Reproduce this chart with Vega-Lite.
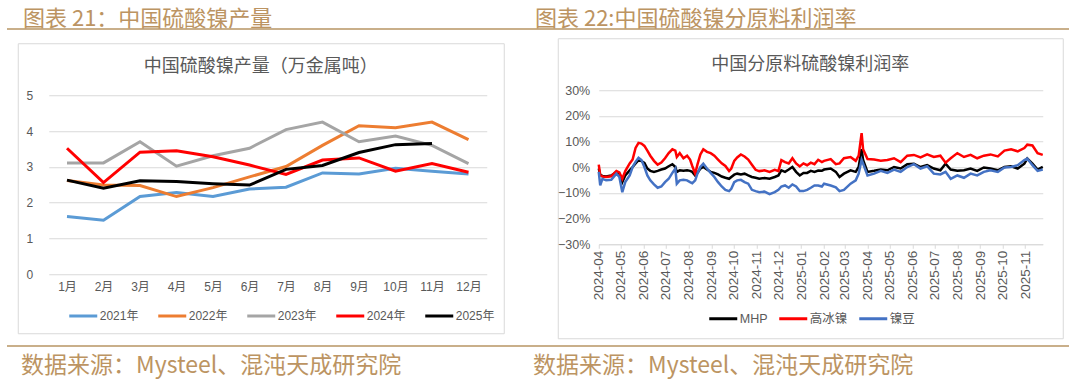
{
  "$schema": "https://vega.github.io/schema/vega-lite/v6.json",
  "padding": {"left": 7, "top": 7, "right": 0, "bottom": 0},
  "spacing": 6,
  "center": true,
  "config": {
    "font": "Liberation Sans, Noto Sans CJK SC",
    "view": {"stroke": null},
    "axis": {"labelColor": "#595959", "labelFont": "Liberation Sans, Noto Sans CJK SC", "gridColor": "#D9D9D9", "domainColor": "#D9D9D9", "tickColor": "#D9D9D9"},
    "legend": {"labelColor": "#595959", "labelFont": "Liberation Sans, Noto Sans CJK SC"}
  },
  "vconcat": [
    {
      "spacing": 0,
      "hconcat": [
        {
          "width": 521, "height": 0.01,
          "view": {"stroke": "#C9AF8A", "strokeWidth": 2},
          "title": {"text": "图表 21：中国硫酸镍产量", "anchor": "start", "dx": 15, "offset": -2, "fontSize": 22, "fontWeight": "normal", "color": "#BC9462", "font": "Noto Sans CJK SC"},
          "data": {"values": []},
          "mark": "point"
        },
        {
          "width": 541, "height": 0.01,
          "view": {"stroke": "#C9AF8A", "strokeWidth": 2},
          "title": {"text": "图表 22:中国硫酸镍分原料利润率", "anchor": "start", "dx": 4, "offset": -2, "fontSize": 22, "fontWeight": "normal", "color": "#BC9462", "font": "Noto Sans CJK SC"},
          "data": {"values": []},
          "mark": "point"
        }
      ]
    },
    {
      "spacing": 52,
      "center": true,
      "resolve": {"scale": {"color": "independent", "x": "independent", "y": "independent"}, "legend": {"color": "independent"}},
      "hconcat": [
        {
          "width": 486, "height": 290,
          "view": {"stroke": "#D9D9D9", "strokeWidth": 1},
          "title": {"text": "中国硫酸镍产量（万金属吨）", "offset": -33, "fontSize": 18, "fontWeight": "normal", "color": "#595959", "font": "Noto Sans CJK SC", "anchor": "middle"},
          "data": {"values": [
            {"month": "1月", "2021年": 1.61, "2022年": 2.62, "2023年": 3.11, "2024年": 3.52, "2025年": 2.63},
            {"month": "2月", "2021年": 1.51, "2022年": 2.49, "2023年": 3.11, "2024年": 2.56, "2025年": 2.40},
            {"month": "3月", "2021年": 2.17, "2022年": 2.48, "2023年": 3.70, "2024年": 3.41, "2025年": 2.61},
            {"month": "4月", "2021年": 2.28, "2022年": 2.17, "2023年": 3.02, "2024年": 3.45, "2025年": 2.59},
            {"month": "5月", "2021年": 2.17, "2022年": 2.42, "2023年": 3.31, "2024年": 3.28, "2025年": 2.53},
            {"month": "6月", "2021年": 2.38, "2022年": 2.72, "2023年": 3.52, "2024年": 3.05, "2025年": 2.49},
            {"month": "7月", "2021年": 2.43, "2022年": 3.01, "2023年": 4.04, "2024年": 2.79, "2025年": 2.93},
            {"month": "8月", "2021年": 2.83, "2022年": 3.60, "2023年": 4.25, "2024年": 3.19, "2025年": 3.04},
            {"month": "9月", "2021年": 2.80, "2022年": 4.15, "2023年": 3.70, "2024年": 3.25, "2025年": 3.40},
            {"month": "10月", "2021年": 2.96, "2022年": 4.09, "2023年": 3.86, "2024年": 2.88, "2025年": 3.62},
            {"month": "11月", "2021年": 2.88, "2022年": 4.25, "2023年": 3.60, "2024年": 3.09, "2025年": 3.65},
            {"month": "12月", "2021年": 2.80, "2022年": 3.76, "2023年": 3.09, "2024年": 2.85}
          ]},
          "transform": [{"fold": ["2021年", "2022年", "2023年", "2024年", "2025年"], "as": ["year", "value"]}],
          "mark": {"type": "line", "strokeWidth": 3},
          "encoding": {
            "x": {"field": "month", "type": "ordinal",
              "sort": ["1月","2月","3月","4月","5月","6月","7月","8月","9月","10月","11月","12月"],
              "scale": {"type": "point", "range": [31, 469], "padding": 0.5},
              "axis": {"title": null, "labelAngle": 0, "domain": false, "ticks": false, "grid": false, "offset": -59, "labelPadding": 7, "labelFontSize": 12}},
            "y": {"field": "value", "type": "quantitative",
              "scale": {"domain": [0, 5], "range": [231, 52], "nice": false},
              "axis": {"title": null, "values": [0, 1, 2, 3, 4, 5], "domain": false, "ticks": false, "offset": -17, "labelPadding": 2, "labelFontSize": 12}},
            "color": {"field": "year", "type": "nominal",
              "scale": {"domain": ["2021年", "2022年", "2023年", "2024年", "2025年"], "range": ["#5B9BD5", "#ED7D31", "#A5A5A5", "#FF0000", "#000000"]},
              "legend": {"title": null, "orient": "none", "legendX": 50, "legendY": 257, "direction": "horizontal", "columns": 5, "symbolType": "stroke", "symbolSize": 784, "symbolStrokeWidth": 3, "labelFontSize": 12, "labelOffset": 1, "columnPadding": 13}}
          }
        },
        {
          "width": 505, "height": 300,
          "view": {"stroke": "#D9D9D9", "strokeWidth": 1},
          "title": {"text": "中国分原料硫酸镍利润率", "offset": -36, "fontSize": 18, "fontWeight": "normal", "color": "#595959", "font": "Noto Sans CJK SC", "anchor": "middle"},
          "data": {"values": [
            {"date": "2024/04/01", "MHP": -0.005, "高冰镍": 0.010, "镍豆": -0.018},
            {"date": "2024/04/03", "MHP": -0.030, "高冰镍": -0.030, "镍豆": -0.071},
            {"date": "2024/04/06", "MHP": -0.034, "高冰镍": -0.036, "镍豆": -0.045},
            {"date": "2024/04/11", "MHP": -0.036, "高冰镍": -0.038, "镍豆": -0.051},
            {"date": "2024/04/18", "MHP": -0.032, "高冰镍": -0.035, "镍豆": -0.049},
            {"date": "2024/04/25", "MHP": -0.018, "高冰镍": -0.015, "镍豆": -0.025},
            {"date": "2024/04/29", "MHP": -0.025, "高冰镍": -0.020, "镍豆": -0.038},
            {"date": "2024/05/03", "MHP": -0.058, "高冰镍": -0.045, "镍豆": -0.097},
            {"date": "2024/05/07", "MHP": -0.032, "高冰镍": -0.015, "镍豆": -0.058},
            {"date": "2024/05/13", "MHP": -0.012, "高冰镍": 0.015, "镍豆": -0.032},
            {"date": "2024/05/17", "MHP": 0.001, "高冰镍": 0.030, "镍豆": 0.001},
            {"date": "2024/05/21", "MHP": 0.015, "高冰镍": 0.075, "镍豆": 0.021},
            {"date": "2024/05/25", "MHP": 0.028, "高冰镍": 0.095, "镍豆": 0.037},
            {"date": "2024/05/29", "MHP": 0.024, "高冰镍": 0.092, "镍豆": 0.028},
            {"date": "2024/06/02", "MHP": 0.017, "高冰镍": 0.083, "镍豆": 0.001},
            {"date": "2024/06/06", "MHP": -0.005, "高冰镍": 0.065, "镍豆": -0.032},
            {"date": "2024/06/10", "MHP": -0.014, "高冰镍": 0.045, "镍豆": -0.051},
            {"date": "2024/06/15", "MHP": -0.018, "高冰镍": 0.025, "镍豆": -0.067},
            {"date": "2024/06/20", "MHP": -0.014, "高冰镍": 0.010, "镍豆": -0.080},
            {"date": "2024/06/25", "MHP": -0.009, "高冰镍": 0.018, "镍豆": -0.075},
            {"date": "2024/06/30", "MHP": -0.005, "高冰镍": 0.035, "镍豆": -0.058},
            {"date": "2024/07/05", "MHP": 0.004, "高冰镍": 0.055, "镍豆": -0.045},
            {"date": "2024/07/10", "MHP": 0.012, "高冰镍": 0.070, "镍豆": -0.022},
            {"date": "2024/07/14", "MHP": 0.001, "高冰镍": 0.065, "镍豆": -0.005},
            {"date": "2024/07/16", "MHP": -0.018, "高冰镍": 0.040, "镍豆": -0.064},
            {"date": "2024/07/20", "MHP": -0.012, "高冰镍": 0.055, "镍豆": -0.051},
            {"date": "2024/07/25", "MHP": -0.014, "高冰镍": 0.035, "镍豆": -0.049},
            {"date": "2024/07/30", "MHP": -0.012, "高冰镍": 0.045, "镍豆": -0.051},
            {"date": "2024/08/03", "MHP": -0.014, "高冰镍": 0.030, "镍豆": -0.058},
            {"date": "2024/08/06", "MHP": -0.018, "高冰镍": 0.005, "镍豆": -0.062},
            {"date": "2024/08/10", "MHP": -0.032, "高冰镍": -0.025, "镍豆": -0.051},
            {"date": "2024/08/13", "MHP": -0.022, "高冰镍": 0.010, "镍豆": -0.025},
            {"date": "2024/08/17", "MHP": -0.005, "高冰镍": 0.050, "镍豆": 0.001},
            {"date": "2024/08/21", "MHP": 0.001, "高冰镍": 0.070, "镍豆": 0.014},
            {"date": "2024/08/26", "MHP": -0.009, "高冰镍": 0.060, "镍豆": -0.005},
            {"date": "2024/08/31", "MHP": -0.018, "高冰镍": 0.055, "镍豆": -0.022},
            {"date": "2024/09/05", "MHP": -0.022, "高冰镍": 0.045, "镍豆": -0.038},
            {"date": "2024/09/10", "MHP": -0.028, "高冰镍": 0.030, "镍豆": -0.058},
            {"date": "2024/09/15", "MHP": -0.036, "高冰镍": 0.015, "镍豆": -0.075},
            {"date": "2024/09/20", "MHP": -0.041, "高冰镍": 0.005, "镍豆": -0.088},
            {"date": "2024/09/25", "MHP": -0.045, "高冰镍": -0.015, "镍豆": -0.093},
            {"date": "2024/09/28", "MHP": -0.038, "高冰镍": -0.005, "镍豆": -0.084},
            {"date": "2024/10/02", "MHP": -0.029, "高冰镍": 0.025, "镍豆": -0.058},
            {"date": "2024/10/06", "MHP": -0.025, "高冰镍": 0.038, "镍豆": -0.051},
            {"date": "2024/10/11", "MHP": -0.028, "高冰镍": 0.050, "镍豆": -0.049},
            {"date": "2024/10/16", "MHP": -0.025, "高冰镍": 0.042, "镍豆": -0.058},
            {"date": "2024/10/21", "MHP": -0.032, "高冰镍": 0.030, "镍豆": -0.064},
            {"date": "2024/10/26", "MHP": -0.038, "高冰镍": 0.010, "镍豆": -0.088},
            {"date": "2024/10/31", "MHP": -0.041, "高冰镍": -0.010, "镍豆": -0.093},
            {"date": "2024/11/05", "MHP": -0.045, "高冰镍": -0.015, "镍豆": -0.097},
            {"date": "2024/11/12", "MHP": -0.042, "高冰镍": -0.012, "镍豆": -0.095},
            {"date": "2024/11/19", "MHP": -0.045, "高冰镍": -0.018, "镍豆": -0.105},
            {"date": "2024/11/26", "MHP": -0.038, "高冰镍": -0.010, "镍豆": -0.097},
            {"date": "2024/12/01", "MHP": -0.032, "高冰镍": -0.015, "镍豆": -0.088},
            {"date": "2024/12/05", "MHP": -0.012, "高冰镍": 0.028, "镍豆": -0.075},
            {"date": "2024/12/10", "MHP": -0.018, "高冰镍": 0.020, "镍豆": -0.071},
            {"date": "2024/12/15", "MHP": -0.009, "高冰镍": 0.015, "镍豆": -0.080},
            {"date": "2024/12/20", "MHP": 0.001, "高冰镍": 0.035, "镍豆": -0.067},
            {"date": "2024/12/25", "MHP": -0.018, "高冰镍": 0.015, "镍豆": -0.075},
            {"date": "2024/12/30", "MHP": -0.032, "高冰镍": 0.003, "镍豆": -0.093},
            {"date": "2025/01/04", "MHP": -0.022, "高冰镍": 0.015, "镍豆": -0.093},
            {"date": "2025/01/09", "MHP": -0.022, "高冰镍": 0.008, "镍豆": -0.088},
            {"date": "2025/01/14", "MHP": -0.014, "高冰镍": 0.018, "镍豆": -0.080},
            {"date": "2025/01/19", "MHP": -0.018, "高冰镍": 0.012, "镍豆": -0.071},
            {"date": "2025/01/24", "MHP": -0.013, "高冰镍": 0.029, "镍豆": -0.071},
            {"date": "2025/01/29", "MHP": -0.014, "高冰镍": 0.020, "镍豆": -0.075},
            {"date": "2025/02/01", "MHP": -0.009, "高冰镍": 0.025, "镍豆": -0.064},
            {"date": "2025/02/10", "MHP": -0.005, "高冰镍": 0.032, "镍豆": -0.071},
            {"date": "2025/02/17", "MHP": -0.018, "高冰镍": 0.012, "镍豆": -0.078},
            {"date": "2025/02/22", "MHP": -0.038, "高冰镍": 0.015, "镍豆": -0.093},
            {"date": "2025/02/28", "MHP": -0.025, "高冰镍": 0.035, "镍豆": -0.088},
            {"date": "2025/03/09", "MHP": -0.012, "高冰镍": 0.040, "镍豆": -0.064},
            {"date": "2025/03/16", "MHP": -0.018, "高冰镍": 0.025, "镍豆": -0.051},
            {"date": "2025/03/20", "MHP": 0.001, "高冰镍": 0.045, "镍豆": -0.025},
            {"date": "2025/03/24", "MHP": 0.070, "高冰镍": 0.133, "镍豆": 0.029},
            {"date": "2025/03/26", "MHP": 0.028, "高冰镍": 0.070, "镍豆": 0.014},
            {"date": "2025/04/01", "MHP": -0.018, "高冰镍": 0.032, "镍豆": -0.032},
            {"date": "2025/04/10", "MHP": -0.014, "高冰镍": 0.030, "镍豆": -0.025},
            {"date": "2025/04/19", "MHP": -0.009, "高冰镍": 0.025, "镍豆": -0.014},
            {"date": "2025/04/28", "MHP": -0.012, "高冰镍": 0.028, "镍豆": -0.022},
            {"date": "2025/05/07", "MHP": 0.001, "高冰镍": 0.035, "镍豆": -0.009},
            {"date": "2025/05/16", "MHP": -0.005, "高冰镍": 0.020, "镍豆": -0.018},
            {"date": "2025/05/25", "MHP": 0.012, "高冰镍": 0.045, "镍豆": 0.001},
            {"date": "2025/06/03", "MHP": 0.014, "高冰镍": 0.048, "镍豆": 0.012},
            {"date": "2025/06/12", "MHP": 0.001, "高冰镍": 0.038, "镍豆": -0.005},
            {"date": "2025/06/21", "MHP": 0.008, "高冰镍": 0.050, "镍豆": 0.004},
            {"date": "2025/06/30", "MHP": -0.005, "高冰镍": 0.040, "镍豆": -0.025},
            {"date": "2025/07/09", "MHP": -0.012, "高冰镍": 0.045, "镍豆": -0.028},
            {"date": "2025/07/16", "MHP": 0.014, "高冰镍": 0.018, "镍豆": -0.018},
            {"date": "2025/07/23", "MHP": -0.009, "高冰镍": 0.035, "镍豆": -0.045},
            {"date": "2025/08/01", "MHP": -0.014, "高冰镍": 0.055, "镍豆": -0.032},
            {"date": "2025/08/10", "MHP": -0.012, "高冰镍": 0.040, "镍豆": -0.041},
            {"date": "2025/08/19", "MHP": -0.005, "高冰镍": 0.048, "镍豆": -0.025},
            {"date": "2025/08/28", "MHP": -0.014, "高冰镍": 0.035, "镍豆": -0.032},
            {"date": "2025/09/06", "MHP": -0.001, "高冰镍": 0.045, "镍豆": -0.018},
            {"date": "2025/09/15", "MHP": -0.005, "高冰镍": 0.050, "镍豆": -0.012},
            {"date": "2025/09/25", "MHP": -0.012, "高冰镍": 0.042, "镍豆": -0.018},
            {"date": "2025/10/04", "MHP": 0.001, "高冰镍": 0.065, "镍豆": -0.001},
            {"date": "2025/10/13", "MHP": 0.004, "高冰镍": 0.070, "镍豆": 0.001},
            {"date": "2025/10/22", "MHP": -0.005, "高冰镍": 0.062, "镍豆": 0.008},
            {"date": "2025/10/31", "MHP": 0.014, "高冰镍": 0.075, "镍豆": 0.028},
            {"date": "2025/11/04", "MHP": 0.034, "高冰镍": 0.088, "镍豆": 0.034},
            {"date": "2025/11/11", "MHP": 0.014, "高冰镍": 0.085, "镍豆": 0.008},
            {"date": "2025/11/18", "MHP": -0.009, "高冰镍": 0.055, "镍豆": -0.014},
            {"date": "2025/11/25", "MHP": 0.001, "高冰镍": 0.048, "镍豆": -0.009}
          ]},
          "transform": [{"fold": ["MHP", "高冰镍", "镍豆"], "as": ["series", "value"]}],
          "mark": {"type": "line", "strokeWidth": 2.5},
          "encoding": {
            "x": {"field": "date", "type": "temporal",
              "scale": {"domain": [{"year": 2024, "month": 4, "date": 1}, {"year": 2025, "month": 11, "date": 25}], "range": [41, 485], "nice": false},
              "axis": {"title": null, "format": "%Y-%m", "tickCount": {"interval": "month", "step": 1}, "labelAngle": -90, "labelAlign": "right", "labelBaseline": "middle", "grid": false, "domain": true, "ticks": true, "tickSize": 4, "offset": -94, "labelPadding": 2, "labelFontSize": 13.5, "labelOverlap": false, "labelFlush": false}},
            "y": {"field": "value", "type": "quantitative",
              "scale": {"domain": [-0.3, 0.3], "range": [206, 52], "nice": false, "zero": false},
              "axis": {"title": null, "values": [-0.3, -0.2, -0.1, 0, 0.1, 0.2, 0.3], "format": ".0%", "domain": false, "ticks": false, "offset": -35, "labelPadding": 3, "labelFontSize": 12.5}},
            "color": {"field": "series", "type": "nominal",
              "scale": {"domain": ["MHP", "高冰镍", "镍豆"], "range": ["#000000", "#FF0000", "#4472C4"]},
              "legend": {"title": null, "orient": "none", "legendX": 150, "legendY": 265, "direction": "horizontal", "columns": 3, "symbolType": "stroke", "symbolSize": 784, "symbolStrokeWidth": 3, "labelFontSize": 12.5, "labelOffset": 1, "columnPadding": 5}}
          }
        }
      ]
    },
    {
      "spacing": 0,
      "hconcat": [
        {
          "width": 521, "height": 0.01,
          "view": {"stroke": "#C9AF8A", "strokeWidth": 2},
          "title": {"text": "数据来源：Mysteel、混沌天成研究院", "orient": "bottom", "anchor": "start", "dx": 13, "offset": 9, "fontSize": 23, "fontWeight": "normal", "color": "#BC9462", "font": "Noto Sans CJK SC"},
          "data": {"values": []},
          "mark": "point"
        },
        {
          "width": 541, "height": 0.01,
          "view": {"stroke": "#C9AF8A", "strokeWidth": 2},
          "title": {"text": "数据来源：Mysteel、混沌天成研究院", "orient": "bottom", "anchor": "start", "dx": 2, "offset": 9, "fontSize": 23, "fontWeight": "normal", "color": "#BC9462", "font": "Noto Sans CJK SC"},
          "data": {"values": []},
          "mark": "point"
        }
      ]
    }
  ]
}
